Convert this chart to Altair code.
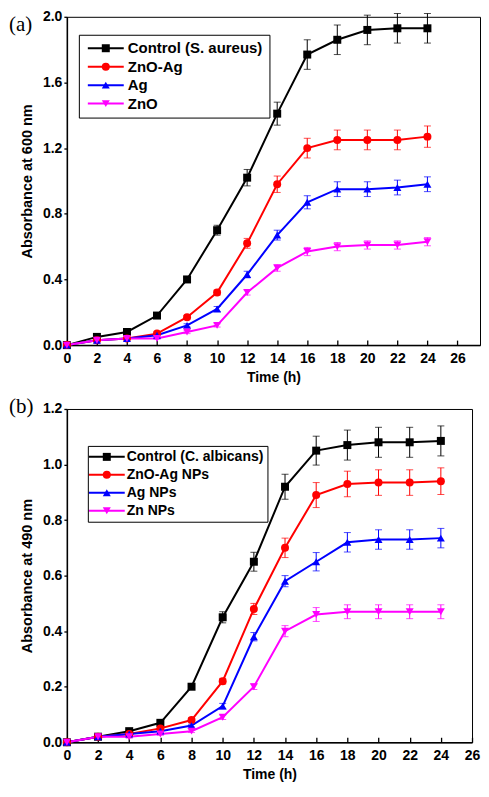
import altair as alt
import pandas as pd

hours = [0, 2, 4, 6, 8, 10, 12, 14, 16, 18, 20, 22, 24]
x_ticks = [0, 2, 4, 6, 8, 10, 12, 14, 16, 18, 20, 22, 24, 26]

# Panel (a): S. aureus, absorbance at 600 nm
a_names = ["Control (S. aureus)", "ZnO-Ag", "Ag", "ZnO"]
a_control = [0.0, 0.05, 0.08, 0.18, 0.40, 0.70, 1.02, 1.41, 1.77, 1.86, 1.92, 1.93, 1.93]
a_control_err = [0.005, 0.01, 0.01, 0.01, 0.015, 0.03, 0.05, 0.07, 0.09, 0.09, 0.09, 0.09, 0.09]
a_znoag = [0.0, 0.03, 0.04, 0.07, 0.17, 0.32, 0.62, 0.98, 1.20, 1.25, 1.25, 1.25, 1.27]
a_znoag_err = [0.005, 0.005, 0.005, 0.01, 0.01, 0.015, 0.03, 0.05, 0.06, 0.06, 0.06, 0.06, 0.065]
a_ag = [0.0, 0.03, 0.04, 0.06, 0.12, 0.22, 0.43, 0.67, 0.87, 0.95, 0.95, 0.96, 0.98]
a_ag_err = [0.005, 0.005, 0.005, 0.005, 0.01, 0.015, 0.02, 0.03, 0.04, 0.045, 0.045, 0.045, 0.045]
a_zno = [0.0, 0.03, 0.04, 0.04, 0.08, 0.12, 0.32, 0.47, 0.57, 0.60, 0.61, 0.61, 0.63]
a_zno_err = [0.005, 0.005, 0.005, 0.005, 0.01, 0.01, 0.015, 0.02, 0.025, 0.025, 0.025, 0.025, 0.025]
a_y_ticks = [0.0, 0.4, 0.8, 1.2, 1.6, 2.0]

# Panel (b): C. albicans, absorbance at 490 nm
b_names = ["Control (C. albicans)", "ZnO-Ag NPs", "Ag NPs", "Zn NPs"]
b_control = [0.0, 0.02, 0.04, 0.07, 0.20, 0.45, 0.65, 0.92, 1.05, 1.07, 1.08, 1.08, 1.085]
b_control_err = [0.003, 0.005, 0.005, 0.008, 0.01, 0.02, 0.034, 0.045, 0.052, 0.054, 0.054, 0.054, 0.054]
b_znoag = [0.0, 0.02, 0.03, 0.05, 0.08, 0.22, 0.48, 0.70, 0.89, 0.93, 0.935, 0.935, 0.94]
b_znoag_err = [0.003, 0.005, 0.005, 0.005, 0.008, 0.01, 0.02, 0.035, 0.045, 0.046, 0.046, 0.046, 0.048]
b_ag = [0.0, 0.02, 0.03, 0.04, 0.06, 0.13, 0.38, 0.58, 0.65, 0.72, 0.73, 0.73, 0.735]
b_ag_err = [0.003, 0.005, 0.005, 0.005, 0.005, 0.01, 0.015, 0.02, 0.033, 0.035, 0.035, 0.035, 0.035]
b_zn = [0.0, 0.02, 0.02, 0.03, 0.04, 0.09, 0.20, 0.40, 0.46, 0.47, 0.47, 0.47, 0.47]
b_zn_err = [0.003, 0.005, 0.005, 0.005, 0.005, 0.008, 0.01, 0.02, 0.025, 0.025, 0.025, 0.025, 0.025]
b_y_ticks = [0.0, 0.2, 0.4, 0.6, 0.8, 1.0, 1.2]

colors = ["#000000", "#FF0000", "#0000FF", "#FF00FF"]
shapes = ["square", "circle", "triangle-up", "triangle-down"]
legend_line = "M-4.5,0H4.5"

FONT = "Liberation Sans"


def long_table(names, series, errs):
    rows = []
    for name, vals, es in zip(names, series, errs):
        for t, v, e in zip(hours, vals, es):
            rows.append({"time": t, "value": v, "lo": v - e, "hi": v + e, "series": name})
    return pd.DataFrame(rows)


def panel(df, names, xmax, ymax, yticks, width, height, ytitle, tag, tag_y,
          lx, ly, lpad, lfont, so, lo, rowpad):
    xs = alt.Scale(domain=[0, xmax], nice=False, zero=False)
    ys = alt.Scale(domain=[0, ymax], nice=False, zero=False)
    xaxis = alt.Axis(values=x_ticks, title="Time (h)", ticks=False, grid=False,
                     labelFlush=False, labelPadding=6, titlePadding=5,
                     labelFontSize=14, titleFontSize=14)
    # tick-only axis moved onto the bottom edge so that its ticks point inward
    xticks_in = alt.Axis(orient="top", offset=-height, values=x_ticks, labels=False,
                         domain=False, ticks=True, tickSize=5, grid=False, title=None)
    yaxis = alt.Axis(values=yticks, format=".1f", title=ytitle, grid=False,
                     tickSize=3, labelPadding=2, titlePadding=8,
                     labelFontSize=14, titleFontSize=14.5)
    cscale = alt.Scale(domain=names, range=colors)
    sscale = alt.Scale(domain=names, range=shapes)
    lscale = alt.Scale(range=colors)
    base = alt.Chart(df)
    y = alt.Y("value:Q", scale=ys, axis=yaxis)

    common = dict(title=None, orient="none", legendX=lx, legendY=ly, padding=lpad,
                  labelFont=FONT, labelFontSize=lfont, labelFontWeight="bold",
                  labelColor="black", symbolSize=64, symbolOffset=so,
                  labelOffset=lo, rowPadding=rowpad, symbolOpacity=1)
    marker_legend = alt.Legend(strokeColor="black", symbolStrokeWidth=0, **common)
    line_legend = alt.Legend(symbolType=legend_line, symbolStrokeWidth=2,
                             labelOpacity=0, **common)

    lines = base.mark_line(strokeWidth=2).encode(
        x=alt.X("time:Q", scale=xs, axis=xaxis), y=y,
        stroke=alt.Stroke("series:N", scale=lscale, sort=names, legend=line_legend),
    )
    errs = base.mark_errorbar(ticks={"size": 7}, rule={"strokeWidth": 1}, thickness=1).encode(
        x=alt.X("time:Q", scale=xs, axis=xticks_in),
        y=alt.Y("lo:Q", scale=ys, axis=yaxis),
        y2="hi:Q",
        color=alt.Color("series:N", scale=cscale, legend=marker_legend),
    )
    points = base.mark_point(filled=True, size=64, opacity=1).encode(
        x=alt.X("time:Q", scale=xs, axis=None), y=y,
        color=alt.Color("series:N", scale=cscale, legend=marker_legend),
        shape=alt.Shape("series:N", scale=sscale, legend=marker_legend),
    )
    label = alt.Chart(pd.DataFrame({"tag": [tag]})).mark_text(
        font="Liberation Serif", fontSize=21, align="left", baseline="middle", color="black"
    ).encode(x=alt.value(-58), y=alt.value(tag_y), text="tag:N")

    return alt.layer(lines, errs, points, label).resolve_axis(x="independent").properties(
        width=width, height=height)


df_a = long_table(a_names, [a_control, a_znoag, a_ag, a_zno],
                  [a_control_err, a_znoag_err, a_ag_err, a_zno_err])
df_b = long_table(b_names, [b_control, b_znoag, b_ag, b_zn],
                  [b_control_err, b_znoag_err, b_ag_err, b_zn_err])

pa = panel(df_a, a_names, 27.5, 2.0, a_y_ticks, 414, 329, "Absorbance at 600 nm", "(a)", 8,
           12, 18, 6, 15, 13.5, 14.5, 2.5)
pb = panel(df_b, b_names, 26, 1.2, b_y_ticks, 406, 334, "Absorbance at 490 nm", "(b)", -2,
           21, 37, 4, 14, 8, 13, 4)

chart = alt.vconcat(pa, pb, spacing=10).resolve_scale(
    color="independent", shape="independent", stroke="independent",
    x="independent", y="independent"
).resolve_legend(
    color="independent", shape="independent", stroke="independent"
).configure_view(
    stroke="black", strokeWidth=1
).configure_axis(
    domainColor="black", domainWidth=1.5, tickColor="black", tickWidth=1.3,
    labelFont=FONT, labelFontWeight="bold", labelColor="black",
    titleFont=FONT, titleFontWeight="bold", titleColor="black",
).properties(padding=0, background="white")

chart.save("out.html", embed_options={"renderer": "svg", "actions": False})
